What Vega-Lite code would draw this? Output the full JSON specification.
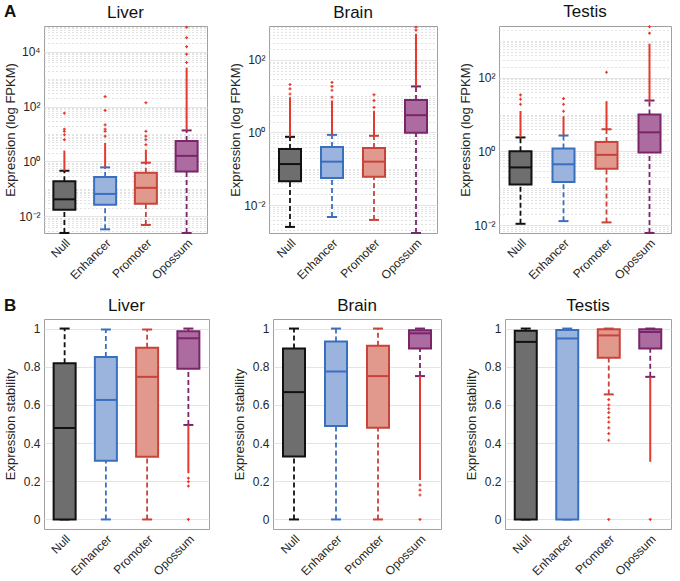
{
  "$schema": "https://vega.github.io/schema/vega-lite/v6.json",
  "background": "white",
  "padding": {"left": 3, "top": 2, "right": 2, "bottom": 0},
  "datasets": {
    "expr_box": [
      {"tissue":"Liver","cat":"Null","lo":0.0025,"q1":0.0176,"med":0.042,"q3":0.19,"hi":0.46},
      {"tissue":"Liver","cat":"Enhancer","lo":0.0034,"q1":0.0266,"med":0.066,"q3":0.27,"hi":0.61},
      {"tissue":"Liver","cat":"Promoter","lo":0.0049,"q1":0.029,"med":0.11,"q3":0.39,"hi":0.9},
      {"tissue":"Liver","cat":"Opossum","lo":0.0025,"q1":0.43,"med":1.6,"q3":5.6,"hi":13.5},
      {"tissue":"Brain","cat":"Null","lo":0.0025,"q1":0.045,"med":0.135,"q3":0.35,"hi":0.76},
      {"tissue":"Brain","cat":"Enhancer","lo":0.0047,"q1":0.056,"med":0.157,"q3":0.40,"hi":0.86},
      {"tissue":"Brain","cat":"Promoter","lo":0.0039,"q1":0.06,"med":0.157,"q3":0.376,"hi":0.81},
      {"tissue":"Brain","cat":"Opossum","lo":0.0017,"q1":0.98,"med":3.0,"q3":7.9,"hi":18.6},
      {"tissue":"Testis","cat":"Null","lo":0.011,"q1":0.128,"med":0.37,"q3":1.02,"hi":2.4},
      {"tissue":"Testis","cat":"Enhancer","lo":0.013,"q1":0.148,"med":0.45,"q3":1.2,"hi":2.7},
      {"tissue":"Testis","cat":"Promoter","lo":0.012,"q1":0.34,"med":0.81,"q3":1.8,"hi":4.0},
      {"tissue":"Testis","cat":"Opossum","lo":0.0062,"q1":0.94,"med":3.3,"q3":10,"hi":24}
    ],
    "expr_dense": [
      {"tissue":"Liver","cat":"Null","lo":0.46,"hi":2.5},
      {"tissue":"Liver","cat":"Enhancer","lo":0.61,"hi":4.7},
      {"tissue":"Liver","cat":"Promoter","lo":0.9,"hi":2.7},
      {"tissue":"Liver","cat":"Opossum","lo":13.5,"hi":2600},
      {"tissue":"Brain","cat":"Null","lo":0.76,"hi":9.4},
      {"tissue":"Brain","cat":"Enhancer","lo":0.86,"hi":7.6},
      {"tissue":"Brain","cat":"Promoter","lo":0.81,"hi":4},
      {"tissue":"Brain","cat":"Opossum","lo":18.6,"hi":525},
      {"tissue":"Testis","cat":"Null","lo":2.4,"hi":12.5},
      {"tissue":"Testis","cat":"Enhancer","lo":2.7,"hi":9},
      {"tissue":"Testis","cat":"Promoter","lo":4,"hi":23},
      {"tissue":"Testis","cat":"Opossum","lo":24,"hi":830}
    ],
    "expr_pts": [
      {"tissue":"Liver","cat":"Null","v":6.2},{"tissue":"Liver","cat":"Null","v":9.4},{"tissue":"Liver","cat":"Null","v":12.5},{"tissue":"Liver","cat":"Null","v":15},{"tissue":"Liver","cat":"Null","v":57},
      {"tissue":"Liver","cat":"Enhancer","v":8.3},{"tissue":"Liver","cat":"Enhancer","v":12.5},{"tissue":"Liver","cat":"Enhancer","v":15},{"tissue":"Liver","cat":"Enhancer","v":21.6},{"tissue":"Liver","cat":"Enhancer","v":72},{"tissue":"Liver","cat":"Enhancer","v":230},
      {"tissue":"Liver","cat":"Promoter","v":4.1},{"tissue":"Liver","cat":"Promoter","v":6.2},{"tissue":"Liver","cat":"Promoter","v":8.3},{"tissue":"Liver","cat":"Promoter","v":12.5},{"tissue":"Liver","cat":"Promoter","v":138},
      {"tissue":"Liver","cat":"Opossum","v":4000},{"tissue":"Liver","cat":"Opossum","v":8000},{"tissue":"Liver","cat":"Opossum","v":15000},{"tissue":"Liver","cat":"Opossum","v":32000},{"tissue":"Liver","cat":"Opossum","v":77000},
      {"tissue":"Brain","cat":"Null","v":11.5},{"tissue":"Brain","cat":"Null","v":16},{"tissue":"Brain","cat":"Null","v":21},
      {"tissue":"Brain","cat":"Enhancer","v":9.4},{"tissue":"Brain","cat":"Enhancer","v":14.6},{"tissue":"Brain","cat":"Enhancer","v":18.6},{"tissue":"Brain","cat":"Enhancer","v":24},
      {"tissue":"Brain","cat":"Promoter","v":4.9},{"tissue":"Brain","cat":"Promoter","v":7.6},{"tissue":"Brain","cat":"Promoter","v":11},
      {"tissue":"Brain","cat":"Opossum","v":660},{"tissue":"Brain","cat":"Opossum","v":800},
      {"tissue":"Testis","cat":"Null","v":19},{"tissue":"Testis","cat":"Null","v":26},{"tissue":"Testis","cat":"Null","v":34},
      {"tissue":"Testis","cat":"Enhancer","v":12.3},{"tissue":"Testis","cat":"Enhancer","v":19},{"tissue":"Testis","cat":"Enhancer","v":27},
      {"tissue":"Testis","cat":"Promoter","v":140},
      {"tissue":"Testis","cat":"Opossum","v":1600},{"tissue":"Testis","cat":"Opossum","v":2400}
    ],
    "stab_box": [
      {"tissue":"Liver","cat":"Null","lo":0,"q1":0,"med":0.479,"q3":0.818,"hi":1.0},
      {"tissue":"Liver","cat":"Enhancer","lo":0,"q1":0.307,"med":0.626,"q3":0.851,"hi":0.995},
      {"tissue":"Liver","cat":"Promoter","lo":0,"q1":0.328,"med":0.747,"q3":0.9,"hi":0.995},
      {"tissue":"Liver","cat":"Opossum","lo":0.495,"q1":0.789,"med":0.949,"q3":0.986,"hi":1.0},
      {"tissue":"Brain","cat":"Null","lo":0,"q1":0.33,"med":0.667,"q3":0.896,"hi":1.0},
      {"tissue":"Brain","cat":"Enhancer","lo":0,"q1":0.489,"med":0.775,"q3":0.932,"hi":1.0},
      {"tissue":"Brain","cat":"Promoter","lo":0,"q1":0.481,"med":0.751,"q3":0.91,"hi":1.0},
      {"tissue":"Brain","cat":"Opossum","lo":0.751,"q1":0.895,"med":0.975,"q3":0.991,"hi":1.0},
      {"tissue":"Testis","cat":"Null","lo":0,"q1":0,"med":0.93,"q3":0.988,"hi":1.0},
      {"tissue":"Testis","cat":"Enhancer","lo":0,"q1":0,"med":0.948,"q3":0.993,"hi":1.0},
      {"tissue":"Testis","cat":"Promoter","lo":0.655,"q1":0.847,"med":0.964,"q3":0.996,"hi":1.0},
      {"tissue":"Testis","cat":"Opossum","lo":0.747,"q1":0.895,"med":0.982,"q3":0.996,"hi":1.0}
    ],
    "stab_dense": [
      {"tissue":"Liver","cat":"Opossum","lo":0.242,"hi":0.495},
      {"tissue":"Brain","cat":"Opossum","lo":0.207,"hi":0.751},
      {"tissue":"Testis","cat":"Opossum","lo":0.302,"hi":0.747}
    ],
    "stab_pts": [
      {"tissue":"Liver","cat":"Opossum","v":0.216},{"tissue":"Liver","cat":"Opossum","v":0.198},{"tissue":"Liver","cat":"Opossum","v":0.175},{"tissue":"Liver","cat":"Opossum","v":0},
      {"tissue":"Brain","cat":"Opossum","v":0.18},{"tissue":"Brain","cat":"Opossum","v":0.154},{"tissue":"Brain","cat":"Opossum","v":0.128},{"tissue":"Brain","cat":"Opossum","v":0},
      {"tissue":"Testis","cat":"Promoter","v":0.628},{"tissue":"Testis","cat":"Promoter","v":0.6},{"tissue":"Testis","cat":"Promoter","v":0.58},{"tissue":"Testis","cat":"Promoter","v":0.56},{"tissue":"Testis","cat":"Promoter","v":0.534},{"tissue":"Testis","cat":"Promoter","v":0.51},{"tissue":"Testis","cat":"Promoter","v":0.48},{"tissue":"Testis","cat":"Promoter","v":0.45},{"tissue":"Testis","cat":"Promoter","v":0.415},{"tissue":"Testis","cat":"Promoter","v":0},
      {"tissue":"Testis","cat":"Opossum","v":0}
    ]
  },
  "vconcat": [
    {
      "title": {"text": "A", "anchor": "start", "frame": "group", "fontWeight": "bold", "fontSize": 17, "offset": -18, "dx": -40},
      "spacing": 20,
      "hconcat": [
        {
          "width": 163, "height": 207, "title": "Liver",
          "layer": [
            {"data": {"name": "expr_box"}, "transform": [{"filter": "datum.tissue === 'Liver'"}],
             "mark": {"type": "rule", "strokeDash": [5, 3], "strokeWidth": 1.8},
             "encoding": {
               "x": {"field": "cat", "type": "nominal", "scale": {"domain": ["Null","Enhancer","Promoter","Opossum"], "paddingInner": 0, "paddingOuter": 0}, "axis": {"title": null, "labelAngle": -45}},
               "y": {"field": "lo", "type": "quantitative", "scale": {"type": "log", "domain": [0.0025, 85000], "nice": false}, "axis": {"title": "Expression (log FPKM)", "values": [0.01, 1, 100, 10000], "labelExpr": "datum.value >= 5000 ? '10⁴' : datum.value >= 50 ? '10²' : datum.value >= 0.5 ? '10⁰' : '10⁻²'", "grid": true}},
               "y2": {"field": "q1"},
               "stroke": {"field": "cat", "type": "nominal", "scale": {"domain": ["Null","Enhancer","Promoter","Opossum"], "range": ["#111111","#3a6fbf","#c8433a","#7a2569"]}, "legend": null}
             }},
            {"data": {"name": "expr_box"}, "transform": [{"filter": "datum.tissue === 'Liver'"}],
             "mark": {"type": "rule", "strokeDash": [5, 3], "strokeWidth": 1.8},
             "encoding": {
               "x": {"field": "cat", "type": "nominal"},
               "y": {"field": "q3", "type": "quantitative", "axis": {"orient": "left", "title": null, "labels": false, "ticks": false, "domain": false, "minExtent": 0, "maxExtent": 0, "grid": true, "gridDash": [1, 3], "gridColor": "#c4c4c4", "values": [0.003,0.004,0.005,0.006,0.007,0.008,0.009,0.02,0.03,0.04,0.05,0.06,0.07,0.08,0.09,0.1,0.2,0.3,0.4,0.5,0.6,0.7,0.8,0.9,2,3,4,5,6,7,8,9,10,20,30,40,50,60,70,80,90,200,300,400,500,600,700,800,900,1000,2000,3000,4000,5000,6000,7000,8000,9000,20000,30000,40000,50000,60000,70000,80000]}},
               "y2": {"field": "hi"},
               "stroke": {"field": "cat", "type": "nominal", "legend": null}
             }},
            {"data": {"name": "expr_box"}, "transform": [{"filter": "datum.tissue === 'Liver'"}, {"fold": ["lo", "hi"], "as": ["k", "val"]}],
             "mark": {"type": "tick", "size": 10, "thickness": 2},
             "encoding": {"x": {"field": "cat", "type": "nominal"}, "y": {"field": "val", "type": "quantitative", "axis": null}, "color": {"field": "cat", "type": "nominal", "scale": {"domain": ["Null","Enhancer","Promoter","Opossum"], "range": ["#111111","#3a6fbf","#c8433a","#7a2569"]}, "legend": null}}},
            {"data": {"name": "expr_dense"}, "transform": [{"filter": "datum.tissue === 'Liver'"}],
             "mark": {"type": "rule", "strokeWidth": 2, "color": "#e5392d"},
             "encoding": {"x": {"field": "cat", "type": "nominal"}, "y": {"field": "lo", "type": "quantitative", "axis": null}, "y2": {"field": "hi"}}},
            {"data": {"name": "expr_pts"}, "transform": [{"filter": "datum.tissue === 'Liver'"}],
             "mark": {"type": "point", "shape": "cross", "filled": true, "size": 9, "color": "#e5392d", "opacity": 1},
             "encoding": {"x": {"field": "cat", "type": "nominal"}, "y": {"field": "v", "type": "quantitative", "axis": null}}},
            {"data": {"name": "expr_box"}, "transform": [{"filter": "datum.tissue === 'Liver'"}],
             "mark": {"type": "bar", "width": 22, "strokeWidth": 2, "opacity": 1},
             "encoding": {"x": {"field": "cat", "type": "nominal"}, "y": {"field": "q1", "type": "quantitative", "axis": null}, "y2": {"field": "q3"},
               "fill": {"field": "cat", "type": "nominal", "scale": {"domain": ["Null","Enhancer","Promoter","Opossum"], "range": ["#6e6e6e","#9bb4dd","#e1988d","#ad6ca0"]}, "legend": null},
               "stroke": {"field": "cat", "type": "nominal", "legend": null}}},
            {"data": {"name": "expr_box"}, "transform": [{"filter": "datum.tissue === 'Liver'"}],
             "mark": {"type": "tick", "size": 22, "thickness": 2},
             "encoding": {"x": {"field": "cat", "type": "nominal"}, "y": {"field": "med", "type": "quantitative", "axis": null}, "color": {"field": "cat", "type": "nominal", "legend": null}}}
          ],
          "resolve": {"axis": {"y": "independent"}}
        },
        {
          "width": 168, "height": 207, "title": "Brain",
          "layer": [
            {"data": {"name": "expr_box"}, "transform": [{"filter": "datum.tissue === 'Brain'"}],
             "mark": {"type": "rule", "strokeDash": [5, 3], "strokeWidth": 1.8},
             "encoding": {
               "x": {"field": "cat", "type": "nominal", "scale": {"domain": ["Null","Enhancer","Promoter","Opossum"], "paddingInner": 0, "paddingOuter": 0}, "axis": {"title": null, "labelAngle": -45}},
               "y": {"field": "lo", "type": "quantitative", "scale": {"type": "log", "domain": [0.0017, 860], "nice": false}, "axis": {"title": "Expression (log FPKM)", "values": [0.01, 1, 100], "labelExpr": "datum.value >= 50 ? '10²' : datum.value >= 0.5 ? '10⁰' : '10⁻²'", "grid": true}},
               "y2": {"field": "q1"},
               "stroke": {"field": "cat", "type": "nominal", "legend": null}
             }},
            {"data": {"name": "expr_box"}, "transform": [{"filter": "datum.tissue === 'Brain'"}],
             "mark": {"type": "rule", "strokeDash": [5, 3], "strokeWidth": 1.8},
             "encoding": {
               "x": {"field": "cat", "type": "nominal"},
               "y": {"field": "q3", "type": "quantitative", "axis": {"orient": "left", "title": null, "labels": false, "ticks": false, "domain": false, "minExtent": 0, "maxExtent": 0, "grid": true, "gridDash": [1, 3], "gridColor": "#c4c4c4", "values": [0.002,0.003,0.004,0.005,0.006,0.007,0.008,0.009,0.02,0.03,0.04,0.05,0.06,0.07,0.08,0.09,0.1,0.2,0.3,0.4,0.5,0.6,0.7,0.8,0.9,2,3,4,5,6,7,8,9,10,20,30,40,50,60,70,80,90,200,300,400,500,600,700,800]}},
               "y2": {"field": "hi"},
               "stroke": {"field": "cat", "type": "nominal", "legend": null}
             }},
            {"data": {"name": "expr_box"}, "transform": [{"filter": "datum.tissue === 'Brain'"}, {"fold": ["lo", "hi"], "as": ["k", "val"]}],
             "mark": {"type": "tick", "size": 10, "thickness": 2},
             "encoding": {"x": {"field": "cat", "type": "nominal"}, "y": {"field": "val", "type": "quantitative", "axis": null}, "color": {"field": "cat", "type": "nominal", "legend": null}}},
            {"data": {"name": "expr_dense"}, "transform": [{"filter": "datum.tissue === 'Brain'"}],
             "mark": {"type": "rule", "strokeWidth": 2, "color": "#e5392d"},
             "encoding": {"x": {"field": "cat", "type": "nominal"}, "y": {"field": "lo", "type": "quantitative", "axis": null}, "y2": {"field": "hi"}}},
            {"data": {"name": "expr_pts"}, "transform": [{"filter": "datum.tissue === 'Brain'"}],
             "mark": {"type": "point", "shape": "cross", "filled": true, "size": 9, "color": "#e5392d", "opacity": 1},
             "encoding": {"x": {"field": "cat", "type": "nominal"}, "y": {"field": "v", "type": "quantitative", "axis": null}}},
            {"data": {"name": "expr_box"}, "transform": [{"filter": "datum.tissue === 'Brain'"}],
             "mark": {"type": "bar", "width": 22, "strokeWidth": 2, "opacity": 1},
             "encoding": {"x": {"field": "cat", "type": "nominal"}, "y": {"field": "q1", "type": "quantitative", "axis": null}, "y2": {"field": "q3"},
               "fill": {"field": "cat", "type": "nominal", "legend": null},
               "stroke": {"field": "cat", "type": "nominal", "legend": null}}},
            {"data": {"name": "expr_box"}, "transform": [{"filter": "datum.tissue === 'Brain'"}],
             "mark": {"type": "tick", "size": 22, "thickness": 2},
             "encoding": {"x": {"field": "cat", "type": "nominal"}, "y": {"field": "med", "type": "quantitative", "axis": null}, "color": {"field": "cat", "type": "nominal", "legend": null}}}
          ],
          "resolve": {"axis": {"y": "independent"}}
        },
        {
          "width": 172, "height": 207, "title": "Testis",
          "layer": [
            {"data": {"name": "expr_box"}, "transform": [{"filter": "datum.tissue === 'Testis'"}],
             "mark": {"type": "rule", "strokeDash": [5, 3], "strokeWidth": 1.8},
             "encoding": {
               "x": {"field": "cat", "type": "nominal", "scale": {"domain": ["Null","Enhancer","Promoter","Opossum"], "paddingInner": 0, "paddingOuter": 0}, "axis": {"title": null, "labelAngle": -45}},
               "y": {"field": "lo", "type": "quantitative", "scale": {"type": "log", "domain": [0.0062, 2500], "nice": false}, "axis": {"title": "Expression (log FPKM)", "values": [0.01, 1, 100], "labelExpr": "datum.value >= 50 ? '10²' : datum.value >= 0.5 ? '10⁰' : '10⁻²'", "grid": true}},
               "y2": {"field": "q1"},
               "stroke": {"field": "cat", "type": "nominal", "legend": null}
             }},
            {"data": {"name": "expr_box"}, "transform": [{"filter": "datum.tissue === 'Testis'"}],
             "mark": {"type": "rule", "strokeDash": [5, 3], "strokeWidth": 1.8},
             "encoding": {
               "x": {"field": "cat", "type": "nominal"},
               "y": {"field": "q3", "type": "quantitative", "axis": {"orient": "left", "title": null, "labels": false, "ticks": false, "domain": false, "minExtent": 0, "maxExtent": 0, "grid": true, "gridDash": [1, 3], "gridColor": "#c4c4c4", "values": [0.007,0.008,0.009,0.02,0.03,0.04,0.05,0.06,0.07,0.08,0.09,0.1,0.2,0.3,0.4,0.5,0.6,0.7,0.8,0.9,2,3,4,5,6,7,8,9,10,20,30,40,50,60,70,80,90,200,300,400,500,600,700,800,900,1000,2000]}},
               "y2": {"field": "hi"},
               "stroke": {"field": "cat", "type": "nominal", "legend": null}
             }},
            {"data": {"name": "expr_box"}, "transform": [{"filter": "datum.tissue === 'Testis'"}, {"fold": ["lo", "hi"], "as": ["k", "val"]}],
             "mark": {"type": "tick", "size": 10, "thickness": 2},
             "encoding": {"x": {"field": "cat", "type": "nominal"}, "y": {"field": "val", "type": "quantitative", "axis": null}, "color": {"field": "cat", "type": "nominal", "legend": null}}},
            {"data": {"name": "expr_dense"}, "transform": [{"filter": "datum.tissue === 'Testis'"}],
             "mark": {"type": "rule", "strokeWidth": 2, "color": "#e5392d"},
             "encoding": {"x": {"field": "cat", "type": "nominal"}, "y": {"field": "lo", "type": "quantitative", "axis": null}, "y2": {"field": "hi"}}},
            {"data": {"name": "expr_pts"}, "transform": [{"filter": "datum.tissue === 'Testis'"}],
             "mark": {"type": "point", "shape": "cross", "filled": true, "size": 9, "color": "#e5392d", "opacity": 1},
             "encoding": {"x": {"field": "cat", "type": "nominal"}, "y": {"field": "v", "type": "quantitative", "axis": null}}},
            {"data": {"name": "expr_box"}, "transform": [{"filter": "datum.tissue === 'Testis'"}],
             "mark": {"type": "bar", "width": 22, "strokeWidth": 2, "opacity": 1},
             "encoding": {"x": {"field": "cat", "type": "nominal"}, "y": {"field": "q1", "type": "quantitative", "axis": null}, "y2": {"field": "q3"},
               "fill": {"field": "cat", "type": "nominal", "legend": null},
               "stroke": {"field": "cat", "type": "nominal", "legend": null}}},
            {"data": {"name": "expr_box"}, "transform": [{"filter": "datum.tissue === 'Testis'"}],
             "mark": {"type": "tick", "size": 22, "thickness": 2},
             "encoding": {"x": {"field": "cat", "type": "nominal"}, "y": {"field": "med", "type": "quantitative", "axis": null}, "color": {"field": "cat", "type": "nominal", "legend": null}}}
          ],
          "resolve": {"axis": {"y": "independent"}}
        }
      ]
    },
    {
      "title": {"text": "B", "anchor": "start", "frame": "group", "fontWeight": "bold", "fontSize": 17, "offset": -18, "dx": -40},
      "spacing": 22,
      "hconcat": [
        {
          "width": 165, "height": 210, "title": "Liver",
          "layer": [
            {"data": {"name": "stab_box"}, "transform": [{"filter": "datum.tissue === 'Liver'"}],
             "mark": {"type": "rule", "strokeDash": [5, 3], "strokeWidth": 1.8},
             "encoding": {
               "x": {"field": "cat", "type": "nominal", "scale": {"domain": ["Null","Enhancer","Promoter","Opossum"], "paddingInner": 0, "paddingOuter": 0}, "axis": {"title": null, "labelAngle": -45}},
               "y": {"field": "lo", "type": "quantitative", "scale": {"domain": [-0.05, 1.05], "nice": false, "zero": false}, "axis": {"title": "Expression stability", "values": [0, 0.2, 0.4, 0.6, 0.8, 1], "format": "~g", "grid": true}},
               "y2": {"field": "q1"},
               "stroke": {"field": "cat", "type": "nominal", "legend": null}
             }},
            {"data": {"name": "stab_box"}, "transform": [{"filter": "datum.tissue === 'Liver'"}],
             "mark": {"type": "rule", "strokeDash": [5, 3], "strokeWidth": 1.8},
             "encoding": {"x": {"field": "cat", "type": "nominal"}, "y": {"field": "q3", "type": "quantitative"}, "y2": {"field": "hi"}, "stroke": {"field": "cat", "type": "nominal", "legend": null}}},
            {"data": {"name": "stab_box"}, "transform": [{"filter": "datum.tissue === 'Liver'"}, {"fold": ["lo", "hi"], "as": ["k", "val"]}],
             "mark": {"type": "tick", "size": 10, "thickness": 2},
             "encoding": {"x": {"field": "cat", "type": "nominal"}, "y": {"field": "val", "type": "quantitative"}, "color": {"field": "cat", "type": "nominal", "legend": null}}},
            {"data": {"name": "stab_dense"}, "transform": [{"filter": "datum.tissue === 'Liver'"}],
             "mark": {"type": "rule", "strokeWidth": 2, "color": "#e5392d"},
             "encoding": {"x": {"field": "cat", "type": "nominal"}, "y": {"field": "lo", "type": "quantitative"}, "y2": {"field": "hi"}}},
            {"data": {"name": "stab_pts"}, "transform": [{"filter": "datum.tissue === 'Liver'"}],
             "mark": {"type": "point", "shape": "cross", "filled": true, "size": 9, "color": "#e5392d", "opacity": 1},
             "encoding": {"x": {"field": "cat", "type": "nominal"}, "y": {"field": "v", "type": "quantitative"}}},
            {"data": {"name": "stab_box"}, "transform": [{"filter": "datum.tissue === 'Liver'"}],
             "mark": {"type": "bar", "width": 22, "strokeWidth": 2, "opacity": 1},
             "encoding": {"x": {"field": "cat", "type": "nominal"}, "y": {"field": "q1", "type": "quantitative"}, "y2": {"field": "q3"},
               "fill": {"field": "cat", "type": "nominal", "legend": null}, "stroke": {"field": "cat", "type": "nominal", "legend": null}}},
            {"data": {"name": "stab_box"}, "transform": [{"filter": "datum.tissue === 'Liver'"}],
             "mark": {"type": "tick", "size": 22, "thickness": 2},
             "encoding": {"x": {"field": "cat", "type": "nominal"}, "y": {"field": "med", "type": "quantitative"}, "color": {"field": "cat", "type": "nominal", "legend": null}}}
          ]
        },
        {
          "width": 168, "height": 210, "title": "Brain",
          "layer": [
            {"data": {"name": "stab_box"}, "transform": [{"filter": "datum.tissue === 'Brain'"}],
             "mark": {"type": "rule", "strokeDash": [5, 3], "strokeWidth": 1.8},
             "encoding": {
               "x": {"field": "cat", "type": "nominal", "scale": {"domain": ["Null","Enhancer","Promoter","Opossum"], "paddingInner": 0, "paddingOuter": 0}, "axis": {"title": null, "labelAngle": -45}},
               "y": {"field": "lo", "type": "quantitative", "scale": {"domain": [-0.05, 1.05], "nice": false, "zero": false}, "axis": {"title": "Expression stability", "values": [0, 0.2, 0.4, 0.6, 0.8, 1], "format": "~g", "grid": true}},
               "y2": {"field": "q1"},
               "stroke": {"field": "cat", "type": "nominal", "legend": null}
             }},
            {"data": {"name": "stab_box"}, "transform": [{"filter": "datum.tissue === 'Brain'"}],
             "mark": {"type": "rule", "strokeDash": [5, 3], "strokeWidth": 1.8},
             "encoding": {"x": {"field": "cat", "type": "nominal"}, "y": {"field": "q3", "type": "quantitative"}, "y2": {"field": "hi"}, "stroke": {"field": "cat", "type": "nominal", "legend": null}}},
            {"data": {"name": "stab_box"}, "transform": [{"filter": "datum.tissue === 'Brain'"}, {"fold": ["lo", "hi"], "as": ["k", "val"]}],
             "mark": {"type": "tick", "size": 10, "thickness": 2},
             "encoding": {"x": {"field": "cat", "type": "nominal"}, "y": {"field": "val", "type": "quantitative"}, "color": {"field": "cat", "type": "nominal", "legend": null}}},
            {"data": {"name": "stab_dense"}, "transform": [{"filter": "datum.tissue === 'Brain'"}],
             "mark": {"type": "rule", "strokeWidth": 2, "color": "#e5392d"},
             "encoding": {"x": {"field": "cat", "type": "nominal"}, "y": {"field": "lo", "type": "quantitative"}, "y2": {"field": "hi"}}},
            {"data": {"name": "stab_pts"}, "transform": [{"filter": "datum.tissue === 'Brain'"}],
             "mark": {"type": "point", "shape": "cross", "filled": true, "size": 9, "color": "#e5392d", "opacity": 1},
             "encoding": {"x": {"field": "cat", "type": "nominal"}, "y": {"field": "v", "type": "quantitative"}}},
            {"data": {"name": "stab_box"}, "transform": [{"filter": "datum.tissue === 'Brain'"}],
             "mark": {"type": "bar", "width": 22, "strokeWidth": 2, "opacity": 1},
             "encoding": {"x": {"field": "cat", "type": "nominal"}, "y": {"field": "q1", "type": "quantitative"}, "y2": {"field": "q3"},
               "fill": {"field": "cat", "type": "nominal", "legend": null}, "stroke": {"field": "cat", "type": "nominal", "legend": null}}},
            {"data": {"name": "stab_box"}, "transform": [{"filter": "datum.tissue === 'Brain'"}],
             "mark": {"type": "tick", "size": 22, "thickness": 2},
             "encoding": {"x": {"field": "cat", "type": "nominal"}, "y": {"field": "med", "type": "quantitative"}, "color": {"field": "cat", "type": "nominal", "legend": null}}}
          ]
        },
        {
          "width": 166, "height": 210, "title": "Testis",
          "layer": [
            {"data": {"name": "stab_box"}, "transform": [{"filter": "datum.tissue === 'Testis'"}],
             "mark": {"type": "rule", "strokeDash": [5, 3], "strokeWidth": 1.8},
             "encoding": {
               "x": {"field": "cat", "type": "nominal", "scale": {"domain": ["Null","Enhancer","Promoter","Opossum"], "paddingInner": 0, "paddingOuter": 0}, "axis": {"title": null, "labelAngle": -45}},
               "y": {"field": "lo", "type": "quantitative", "scale": {"domain": [-0.05, 1.05], "nice": false, "zero": false}, "axis": {"title": "Expression stability", "values": [0, 0.2, 0.4, 0.6, 0.8, 1], "format": "~g", "grid": true}},
               "y2": {"field": "q1"},
               "stroke": {"field": "cat", "type": "nominal", "legend": null}
             }},
            {"data": {"name": "stab_box"}, "transform": [{"filter": "datum.tissue === 'Testis'"}],
             "mark": {"type": "rule", "strokeDash": [5, 3], "strokeWidth": 1.8},
             "encoding": {"x": {"field": "cat", "type": "nominal"}, "y": {"field": "q3", "type": "quantitative"}, "y2": {"field": "hi"}, "stroke": {"field": "cat", "type": "nominal", "legend": null}}},
            {"data": {"name": "stab_box"}, "transform": [{"filter": "datum.tissue === 'Testis'"}, {"fold": ["lo", "hi"], "as": ["k", "val"]}],
             "mark": {"type": "tick", "size": 10, "thickness": 2},
             "encoding": {"x": {"field": "cat", "type": "nominal"}, "y": {"field": "val", "type": "quantitative"}, "color": {"field": "cat", "type": "nominal", "legend": null}}},
            {"data": {"name": "stab_dense"}, "transform": [{"filter": "datum.tissue === 'Testis'"}],
             "mark": {"type": "rule", "strokeWidth": 2, "color": "#e5392d"},
             "encoding": {"x": {"field": "cat", "type": "nominal"}, "y": {"field": "lo", "type": "quantitative"}, "y2": {"field": "hi"}}},
            {"data": {"name": "stab_pts"}, "transform": [{"filter": "datum.tissue === 'Testis'"}],
             "mark": {"type": "point", "shape": "cross", "filled": true, "size": 9, "color": "#e5392d", "opacity": 1},
             "encoding": {"x": {"field": "cat", "type": "nominal"}, "y": {"field": "v", "type": "quantitative"}}},
            {"data": {"name": "stab_box"}, "transform": [{"filter": "datum.tissue === 'Testis'"}],
             "mark": {"type": "bar", "width": 22, "strokeWidth": 2, "opacity": 1},
             "encoding": {"x": {"field": "cat", "type": "nominal"}, "y": {"field": "q1", "type": "quantitative"}, "y2": {"field": "q3"},
               "fill": {"field": "cat", "type": "nominal", "legend": null}, "stroke": {"field": "cat", "type": "nominal", "legend": null}}},
            {"data": {"name": "stab_box"}, "transform": [{"filter": "datum.tissue === 'Testis'"}],
             "mark": {"type": "tick", "size": 22, "thickness": 2},
             "encoding": {"x": {"field": "cat", "type": "nominal"}, "y": {"field": "med", "type": "quantitative"}, "color": {"field": "cat", "type": "nominal", "legend": null}}}
          ]
        }
      ]
    }
  ],
  "spacing": 14,
  "config": {
    "font": "Liberation Sans",
    "view": {"stroke": "#a0a0a0", "strokeWidth": 1},
    "axis": {"labelFont": "Liberation Sans", "labelFontSize": 12, "labelColor": "#262626", "titleFont": "Liberation Sans", "titleFontSize": 13, "titleFontWeight": "normal", "titleColor": "#262626", "domain": false, "ticks": false, "gridColor": "#e4e4e4", "labelPadding": 4},
    "axisY": {"minExtent": 25, "maxExtent": 25, "titlePadding": 2},
    "axisX": {"grid": false, "labelPadding": 4},
    "title": {"font": "Liberation Sans", "fontSize": 17, "fontWeight": "normal", "color": "#111111", "offset": 4},
    "tick": {"opacity": 1},
    "rule": {"opacity": 1}
  }
}
